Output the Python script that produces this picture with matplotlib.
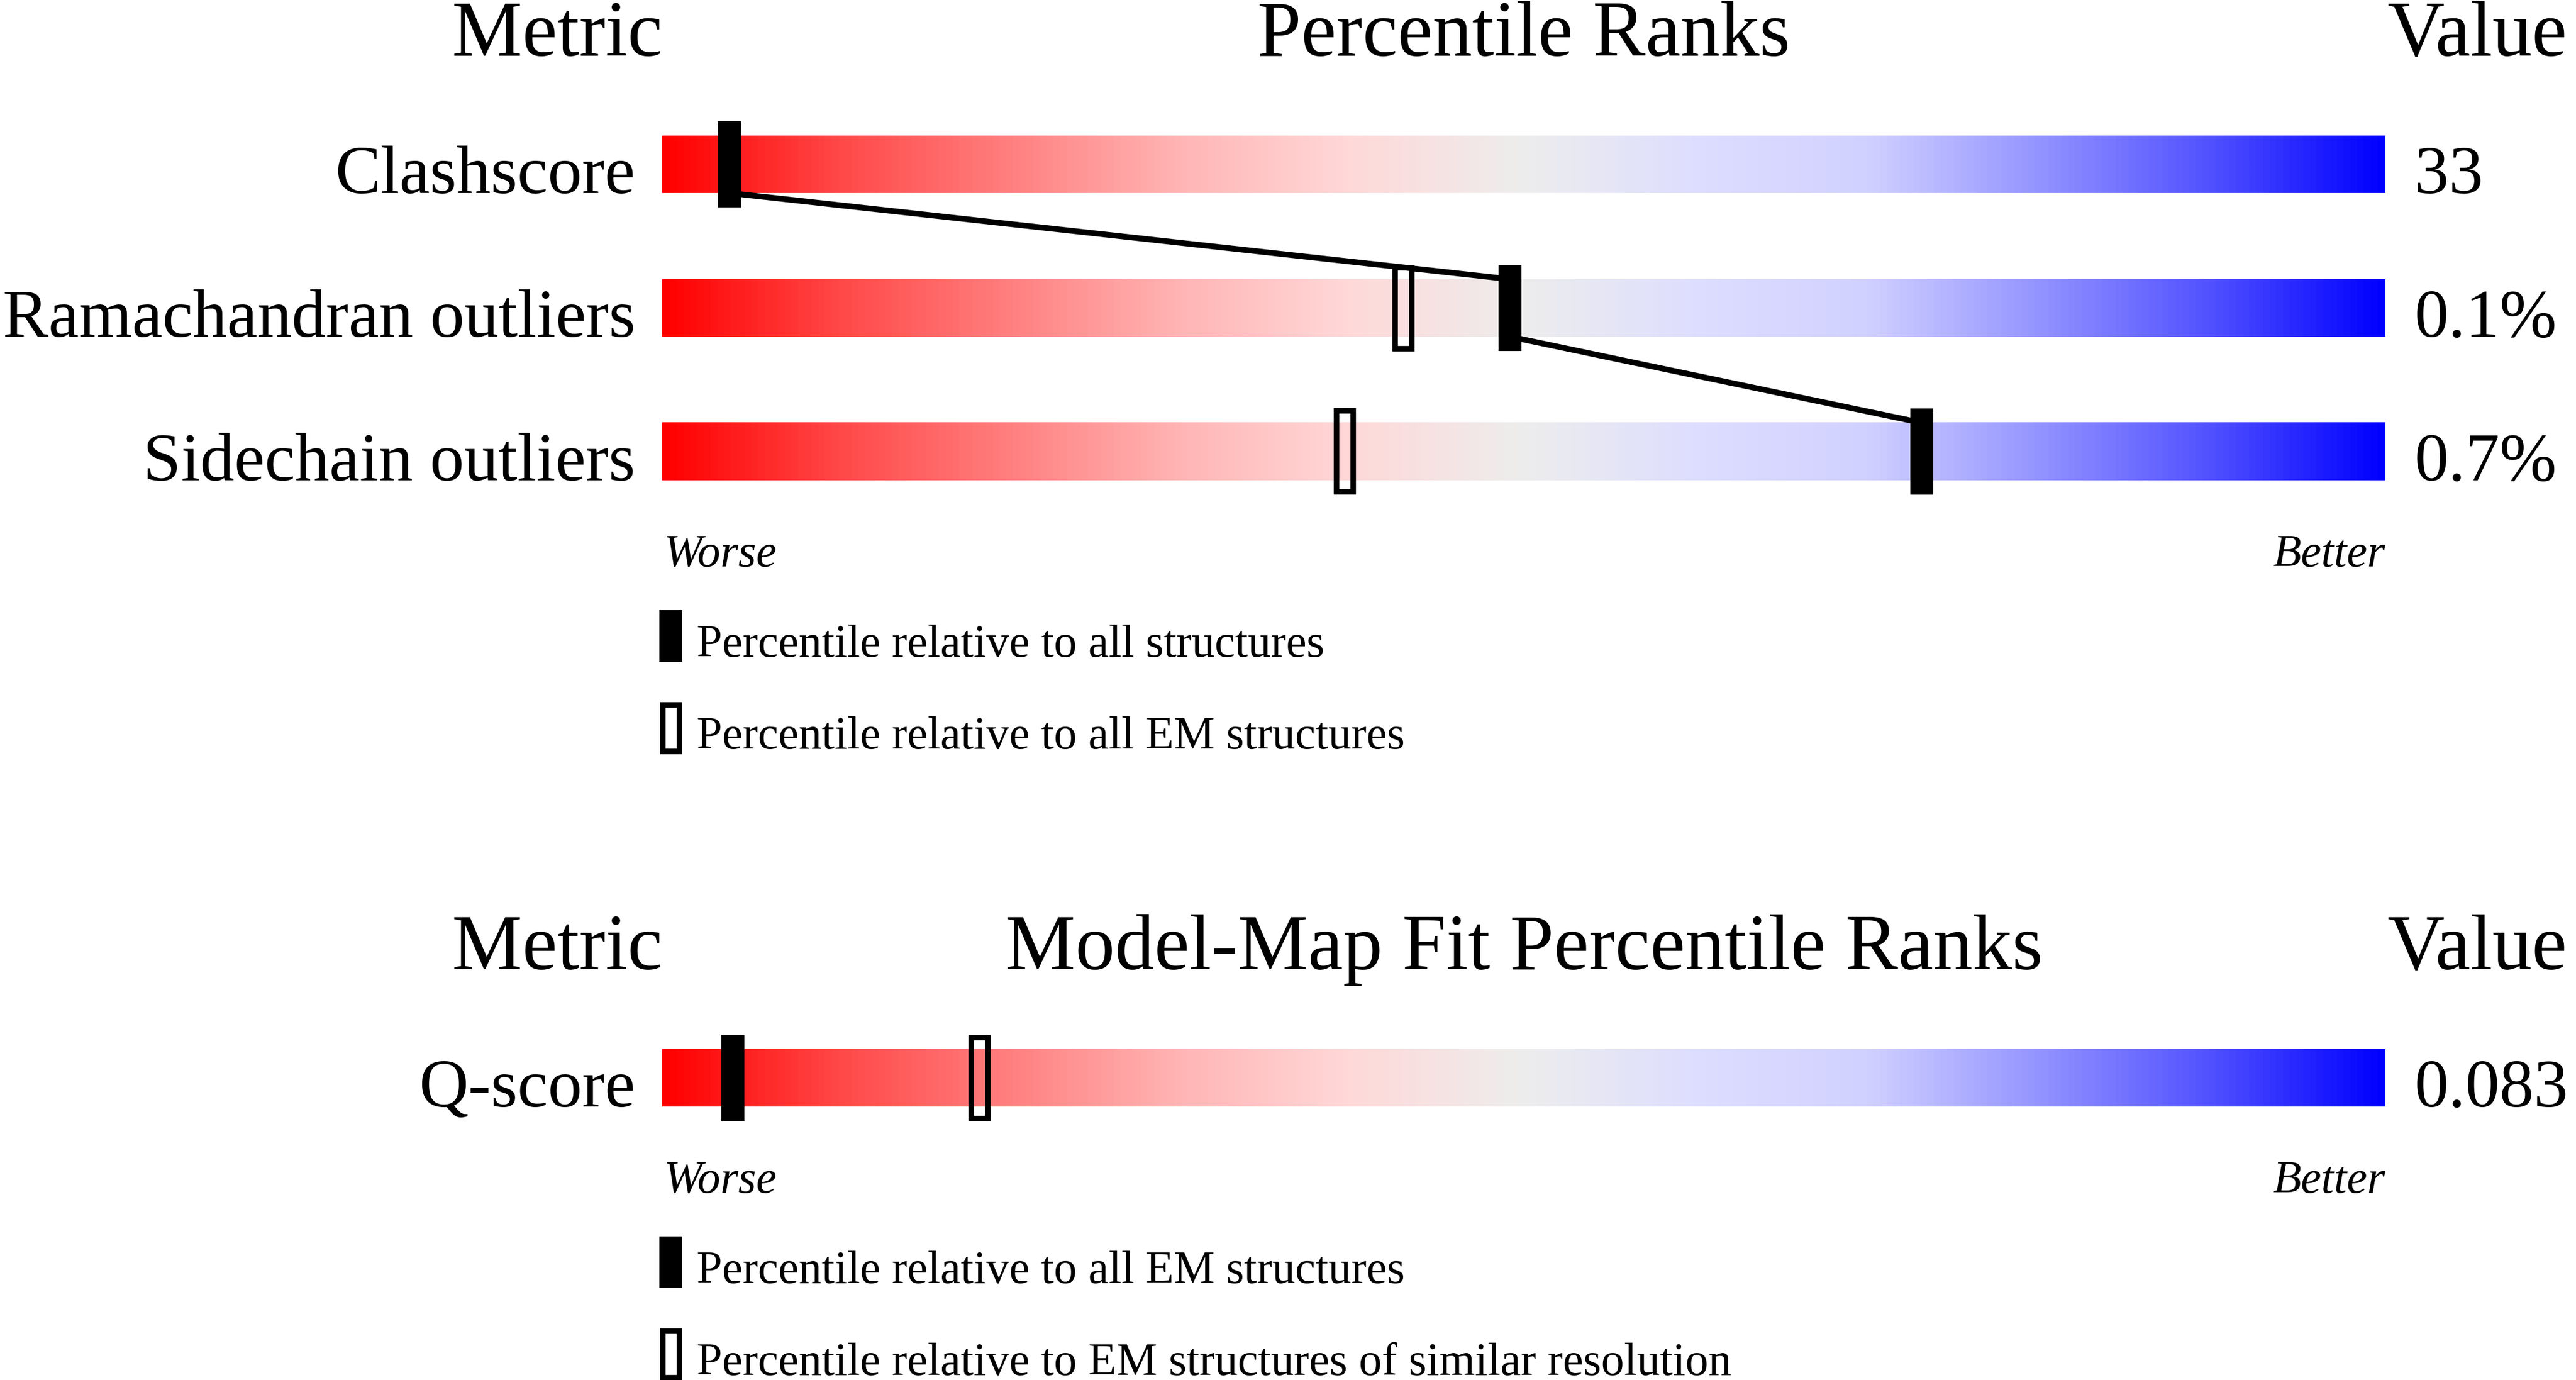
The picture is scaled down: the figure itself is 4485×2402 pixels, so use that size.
import numpy as np
import matplotlib
matplotlib.use('Agg')
import matplotlib.pyplot as plt
from matplotlib.colors import LinearSegmentedColormap
from matplotlib.patches import Rectangle

plt.rcParams['font.family'] = ['Liberation Serif', 'DejaVu Serif']

# DATA
metrics_top = ['Clashscore', 'Ramachandran outliers', 'Sidechain outliers']
values_top = ['33', '0.1%', '0.7%']
pct_all_top = [3.9, 49.2, 73.1]          # relative to all structures
pct_em_top = [np.nan, 43.0, 39.6]        # relative to all EM structures
legend_top = ['Percentile relative to all structures',
              'Percentile relative to all EM structures']

metrics_bot = ['Q-score']
values_bot = ['0.083']
pct_all_bot = [4.1]                      # relative to all EM structures
pct_sim_bot = [18.4]                     # EM structures of similar resolution
legend_bot = ['Percentile relative to all EM structures',
              'Percentile relative to EM structures of similar resolution']

# red -> grey -> blue slider colours
stops = [(0.00, (1.00, 0.00, 0.00)), (0.10, (1.00, 0.28, 0.28)),
         (0.20, (1.00, 0.50, 0.50)), (0.30, (1.00, 0.71, 0.71)),
         (0.40, (1.00, 0.85, 0.85)), (0.50, (0.93, 0.93, 0.93)),
         (0.60, (0.87, 0.87, 1.00)), (0.70, (0.82, 0.82, 1.00)),
         (0.80, (0.58, 0.58, 1.00)), (0.90, (0.32, 0.32, 1.00)),
         (1.00, (0.00, 0.00, 1.00))]
cmap = LinearSegmentedColormap.from_list('slider', stops)
ramp = np.linspace(0, 1, 600).reshape(1, -1)

W, H, DPI = 4485, 2402, 300
fig = plt.figure(figsize=(W / DPI, H / DPI), dpi=DPI)

BAR_H = 0.4
MK_W, MK_H = 1.333, 0.6
LW_OPEN = 2.3
HDR, LAB, SMALL = 33, 28.6, 19.2


def panel(ax, title, metrics, values, pct_fill, pct_open, legend, connect):
    n = len(metrics)
    ax.set_xlim(0, 100)
    ax.set_ylim(n - 0.5, -0.5)
    ax.axis('off')

    for i in range(n):
        ax.imshow(ramp, cmap=cmap, aspect='auto', interpolation='bilinear',
                  extent=[0, 100, i + BAR_H / 2, i - BAR_H / 2], zorder=1)
        ax.text(-1.57, i + 0.2, metrics[i], ha='right', va='baseline', fontsize=LAB)
        ax.text(101.7, i + 0.2, values[i], ha='left', va='baseline', fontsize=LAB)

    if connect:
        for i in range(n - 1):
            ax.plot([pct_fill[i], pct_fill[i + 1]], [i + BAR_H / 2, i + 1 - BAR_H / 2],
                    color='black', lw=2.4, zorder=2, clip_on=False, solid_capstyle='butt')

    for i in range(n):
        if not np.isnan(pct_open[i]):
            ax.add_patch(Rectangle((pct_open[i] - 0.48, i - 0.282), 0.97, 0.564,
                                   facecolor='none', edgecolor='black', lw=LW_OPEN,
                                   zorder=3, clip_on=False))
        ax.add_patch(Rectangle((pct_fill[i] - MK_W / 2, i - MK_H / 2), MK_W, MK_H,
                               facecolor='black', edgecolor='none', zorder=4, clip_on=False))

    # headers
    ax.text(0.03, -0.756, 'Metric', ha='right', va='baseline', fontsize=HDR)
    ax.text(50, -0.756, title, ha='center', va='baseline', fontsize=HDR)
    ax.text(100.1, -0.756, 'Value', ha='left', va='baseline', fontsize=HDR)

    last = n - 1
    ax.text(0.1, last + 0.80, 'Worse', ha='left', va='baseline', fontsize=SMALL, style='italic')
    ax.text(100, last + 0.80, 'Better', ha='right', va='baseline', fontsize=SMALL, style='italic')

    # legend
    ax.add_patch(Rectangle((0.5 - 0.667, last + 1.285 - 0.18), 1.333, 0.36,
                           facecolor='black', edgecolor='none', clip_on=False))
    ax.add_patch(Rectangle((0.5 - 0.48, last + 1.925 - 0.162), 0.97, 0.324,
                           facecolor='none', edgecolor='black', lw=LW_OPEN, clip_on=False))
    ax.text(2.0, last + 1.43, legend[0], ha='left', va='baseline', fontsize=SMALL)
    ax.text(2.0, last + 2.07, legend[1], ha='left', va='baseline', fontsize=SMALL)


x0, x1 = 1153 / W, 4153 / W
ax1 = fig.add_axes([x0, 1 - 911 / H, x1 - x0, 750 / H])
panel(ax1, 'Percentile Ranks', metrics_top, values_top, pct_all_top, pct_em_top,
      legend_top, True)

ax2 = fig.add_axes([x0, 1 - 2001 / H, x1 - x0, 250 / H])
panel(ax2, 'Model-Map Fit Percentile Ranks', metrics_bot, values_bot, pct_all_bot,
      pct_sim_bot, legend_bot, False)

fig.savefig('out.png', dpi=DPI, facecolor='white')
